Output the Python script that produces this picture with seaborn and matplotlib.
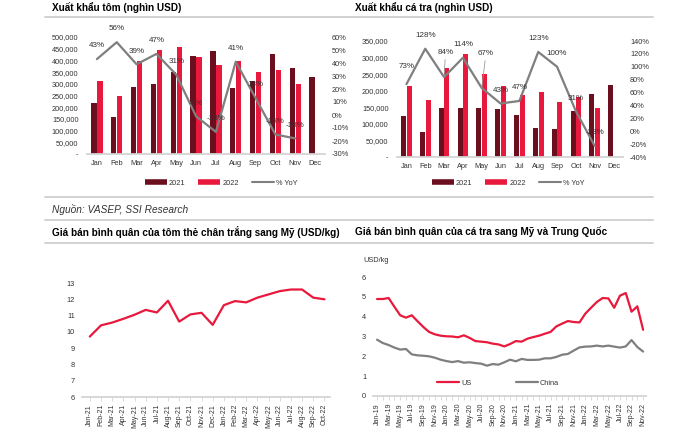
import numpy as np
import pandas as pd
import matplotlib
matplotlib.use("Agg")
import matplotlib.pyplot as plt
from matplotlib.lines import Line2D
import seaborn as sns

# ---------------- data ----------------
months = ["Jan", "Feb", "Mar", "Apr", "May", "Jun", "Jul", "Aug", "Sep", "Oct", "Nov", "Dec"]

shrimp_2021 = [220000, 159000, 286000, 301000, 349000, 420000, 441000, 283000, 310000, 427000, 367000, 329000]
shrimp_2022 = [314000, 246000, 397000, 443000, 457000, 416000, 381000, 399000, 350000, 360000, 300000, np.nan]
shrimp_yoy = [43, 56, 39, 47, 31, -1, -13, 41, 13, -15, -18]

pang_2021 = [125000, 76000, 147000, 147000, 149000, 144000, 128000, 89000, 84000, 138000, 191000, 216000]
pang_2022 = [214000, 173000, 270000, 312000, 250000, 214000, 186000, 196000, 166000, 181000, 148000, np.nan]
pang_yoy = [73, 128, 84, 114, 67, 43, 47, 123, 100, 31, -23]

shrimp_price_months = ["Jan-21", "Feb-21", "Mar-21", "Apr-21", "May-21", "Jun-21", "Jul-21", "Aug-21",
                       "Sep-21", "Oct-21", "Nov-21", "Dec-21", "Jan-22", "Feb-22", "Mar-22", "Apr-22",
                       "May-22", "Jun-22", "Jul-22", "Aug-22", "Sep-22", "Oct-22"]
shrimp_price = [9.71, 10.4, 10.57, 10.8, 11.05, 11.35, 11.19, 11.91, 10.63, 11.07, 11.17, 10.43,
                11.64, 11.89, 11.81, 12.1, 12.3, 12.5, 12.6, 12.6, 12.1, 12.0]

pang_price_months = [f"{m}-{y}" for y in ["19", "20", "21", "22"] for m in months][:47]
pang_price_us = [4.89, 4.89, 4.94, 4.50, 4.07, 3.95, 4.07, 3.77, 3.48, 3.23, 3.11, 3.04,
                 3.01, 3.00, 2.96, 3.06, 2.93, 2.77, 2.74, 2.71, 2.64, 2.60, 2.50, 2.62,
                 2.77, 2.74, 2.89, 2.97, 3.04, 3.14, 3.23, 3.51, 3.65, 3.78, 3.73, 3.71,
                 4.15, 4.45, 4.74, 4.94, 4.92, 4.45, 5.06, 5.19, 4.25, 4.52, 3.34]
pang_price_cn = [2.84, 2.67, 2.57, 2.44, 2.34, 2.37, 2.10, 2.05, 2.03, 2.00, 1.93, 1.83,
                 1.76, 1.71, 1.76, 1.68, 1.70, 1.66, 1.63, 1.53, 1.61, 1.58, 1.70, 1.83,
                 1.75, 1.87, 1.82, 1.82, 1.83, 1.90, 1.90, 1.97, 2.08, 2.12, 2.29, 2.45,
                 2.49, 2.50, 2.54, 2.50, 2.54, 2.49, 2.44, 2.50, 2.82, 2.47, 2.24]

# ---------------- style ----------------
sns.set_theme(style="white")
FONT = ["Liberation Sans", "DejaVu Sans"]
plt.rcParams["font.family"] = FONT

C21 = "#6b0f1e"
C22 = "#e8193c"
GREY = "#7f7f7f"
TXT = "#333333"
SPINE = "#d4d4d4"
TICK_FS = 5.3

W, H = 700, 438
fig = plt.figure(figsize=(7, 4.38), dpi=100)
fig.patch.set_facecolor("white")


def box(x0, x1, y0, y1):
    return [x0 / W, 1 - y1 / H, (x1 - x0) / W, (y1 - y0) / H]


def fx(x):
    return x / W


def fy(y):
    return 1 - y / H


# separator lines and titles
for yy in [17, 197, 220, 243]:
    fig.add_artist(Line2D([fx(45), fx(653)], [fy(yy), fy(yy)], color="#cfcfcf", lw=1.3))

title_kw = dict(fontsize=7.2, fontweight="bold", color="black", va="center", ha="left")
fig.text(fx(52), fy(8), "Xuất khẩu tôm (nghìn USD)", **title_kw)
fig.text(fx(355), fy(8), "Xuất khẩu cá tra (nghìn USD)", **title_kw)
fig.text(fx(52), fy(232), "Giá bán bình quân của tôm thẻ chân trắng sang Mỹ (USD/kg)", **title_kw)
fig.text(fx(355), fy(232), "Giá bán bình quân của cá tra sang Mỹ và Trung Quốc", **title_kw)
fig.text(fx(52), fy(210), "Nguồn: VASEP, SSI Research", fontsize=7.3, style="italic",
         color="#333333", va="center", ha="left")


def left_fmt(v):
    return "-" if v == 0 else f"{int(v):,}"


def bar_chart(rect, v21, v22, yoy, ymax, ystep, rmin, rmax, rstep, label_offsets, legend_cx):
    ax = fig.add_axes(rect)
    df = pd.DataFrame({
        "month": months * 2,
        "year": ["2021"] * 12 + ["2022"] * 12,
        "value": list(v21) + list(v22),
    })
    sns.barplot(data=df, x="month", y="value", hue="year", order=months,
                hue_order=["2021", "2022"], palette={"2021": C21, "2022": C22},
                width=0.6, gap=0.1, saturation=1, errorbar=None, linewidth=0,
                legend=False, ax=ax)
    ax.set_xlim(-0.5, 11.5)
    ax.set_ylim(0, ymax)
    ticks = np.arange(0, ymax + 1, ystep)
    ax.set_yticks(ticks)
    ax.set_yticklabels([left_fmt(t) for t in ticks])
    ax.set_xlabel("")
    ax.set_ylabel("")
    for s in ["top", "left", "right"]:
        ax.spines[s].set_visible(False)
    ax.spines["bottom"].set_color(SPINE)
    ax.spines["bottom"].set_linewidth(1.3)
    ax.tick_params(axis="both", length=0, labelsize=TICK_FS, labelcolor=TXT)
    ax.tick_params(axis="y", pad=6)
    ax.tick_params(axis="x", pad=4)
    ax.patch.set_alpha(0)

    ax2 = ax.twinx()
    x = np.arange(len(yoy))
    sns.lineplot(x=x, y=yoy, ax=ax2, color=GREY, linewidth=1.6)
    ax2.set_ylim(rmin, rmax)
    rt = np.arange(rmin, rmax + 1, rstep)
    ax2.set_yticks(rt)
    ax2.set_yticklabels([f"{int(t)}%" for t in rt])
    ax2.set_ylabel("")
    for s in ["top", "left", "right", "bottom"]:
        ax2.spines[s].set_visible(False)
    ax2.tick_params(axis="y", length=0, labelsize=TICK_FS, labelcolor=TXT, pad=5)
    ax2.grid(False)
    ax.grid(False)

    for i, v in enumerate(yoy):
        dx, dy, leader = label_offsets.get(i, (0, 7, False))
        kw = {}
        if leader:
            kw["arrowprops"] = dict(arrowstyle="-", color="#9a9a9a", lw=0.6, shrinkA=0, shrinkB=0)
        ax2.annotate(f"{v}%", xy=(i, v), xytext=(dx, dy), textcoords="offset points",
                     ha="center", va="bottom", fontsize=5.8, color=TXT, **kw)

    handles = [Line2D([], [], color=C21, lw=4, solid_capstyle="butt"),
               Line2D([], [], color=C22, lw=4, solid_capstyle="butt"),
               Line2D([], [], color=GREY, lw=1.5)]
    fig.legend(handles, ["2021", "2022", "% YoY"], loc="center",
               bbox_to_anchor=(fx(legend_cx), fy(183)), ncol=3, frameon=False,
               fontsize=TICK_FS, handlelength=3.0, handletextpad=0.25,
               columnspacing=1.8, labelcolor=TXT)
    return ax, ax2


bar_chart(box(87, 325, 37, 154), shrimp_2021, shrimp_2022, shrimp_yoy,
          500000, 50000, -30, 60, 10, {}, 221)
bar_chart(box(397, 623, 41, 157), pang_2021, pang_2022, pang_yoy,
          350000, 50000, -40, 140, 20,
          {0: (0, 10, False), 2: (1, 15, True), 4: (3, 22, True)}, 508)


def style_line_ax(ax):
    for s in ["top", "left", "right"]:
        ax.spines[s].set_visible(False)
    ax.spines["bottom"].set_color(SPINE)
    ax.spines["bottom"].set_linewidth(1.3)
    ax.grid(False)
    ax.set_xlabel("")
    ax.set_ylabel("")
    ax.tick_params(axis="y", length=0, labelsize=TICK_FS, labelcolor=TXT, pad=5)
    ax.tick_params(axis="x", which="both", bottom=True, length=3, width=0.6, color=SPINE,
                   labelsize=5, labelcolor=TXT, rotation=90, pad=2)
    ax.patch.set_alpha(0)


# bottom-left: shrimp price
axl = fig.add_axes(box(82, 330, 283, 397))
xs = np.arange(len(shrimp_price))
sns.lineplot(x=xs, y=shrimp_price, ax=axl, color=C22, linewidth=1.6)
axl.set_xlim(-0.7, len(xs) - 0.5)
axl.set_ylim(6, 13)
axl.set_yticks(range(6, 14))
axl.set_xticks(xs)
axl.set_xticklabels(shrimp_price_months)
style_line_ax(axl)

# bottom-right: pangasius price
axr = fig.add_axes(box(373, 646, 277, 396))
xp = np.arange(len(pang_price_us))
sns.lineplot(x=xp, y=pang_price_us, ax=axr, color=C22, linewidth=1.6, label="US")
sns.lineplot(x=xp, y=pang_price_cn, ax=axr, color=GREY, linewidth=1.6, label="China")
axr.set_xlim(-0.7, len(xp) - 0.5)
axr.set_ylim(0, 6)
axr.set_yticks(range(0, 7))
axr.set_xticks(xp[::2])
axr.set_xticklabels(pang_price_months[::2])
axr.set_xticks(xp, minor=True)
style_line_ax(axr)
axr.legend(loc="center", bbox_to_anchor=((498 - 373) / (646 - 373), (396 - 383) / (396 - 277)),
           ncol=2, frameon=False, fontsize=TICK_FS, handlelength=3.0, handletextpad=0.25,
           columnspacing=6.0, labelcolor=TXT)
fig.text(fx(363), fy(261), "USD/kg", fontsize=TICK_FS, color=TXT, ha="left", va="center")

fig.savefig("out.png", dpi=100, facecolor="white")
